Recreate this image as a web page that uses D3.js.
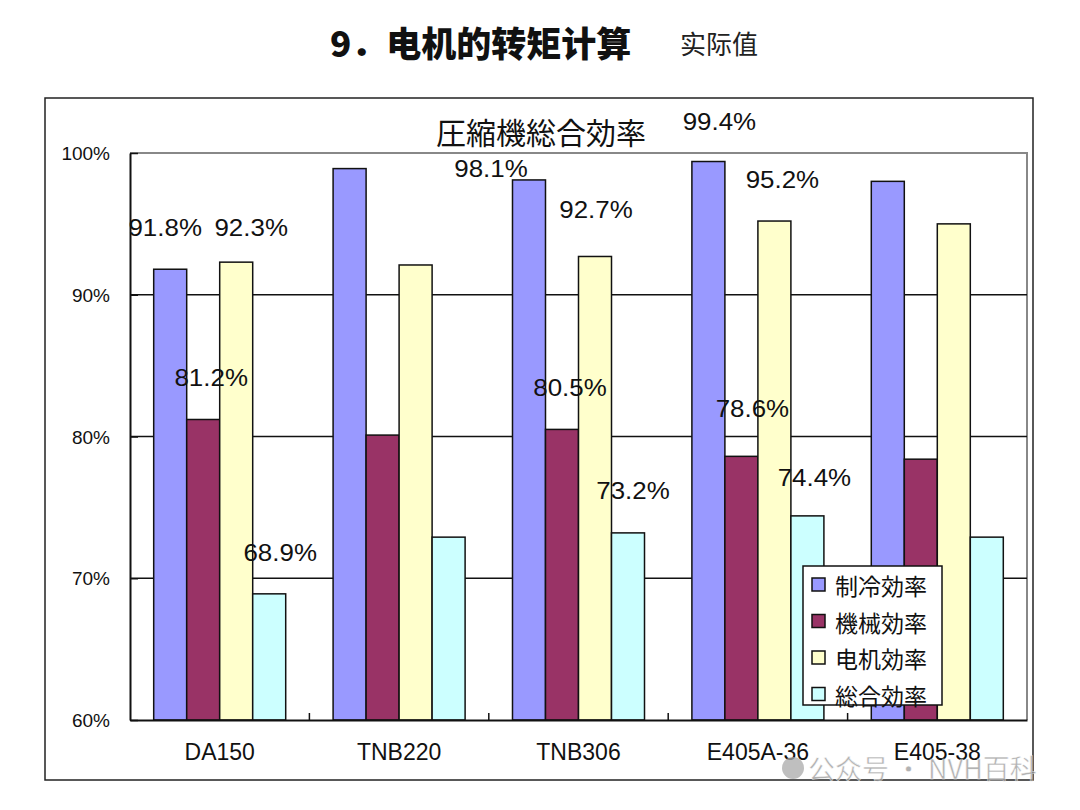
<!DOCTYPE html>
<html><head><meta charset="utf-8">
<script src="https://cdn.jsdelivr.net/npm/d3@7"></script>
<style>
html,body{margin:0;padding:0;background:#fff;}
svg{display:block;}
</style></head>
<body>
<svg id="c" width="1080" height="810"></svg>
<script>
// ---- data ----
const categories = ["DA150", "TNB220", "TNB306", "E405A-36", "E405-38"];
const seriesNames = ["制冷効率", "機械効率", "电机効率", "総合効率"];
const cooling    = [91.8, 98.9, 98.1, 99.4, 98.0];
const mechanical = [81.2, 80.1, 80.5, 78.6, 78.4];
const motor      = [92.3, 92.1, 92.7, 95.2, 95.0];
const overall    = [68.9, 72.9, 73.2, 74.4, 72.9];
const labeledCategories = ["DA150", "TNB306", "E405A-36"];
const yTickValues = [60, 70, 80, 90, 100];
const yTickLabels = ["60%", "70%", "80%", "90%", "100%"];

// ---- layout / style ----
const seriesValues = [cooling, mechanical, motor, overall];
const colors = ["#9999FF", "#993366", "#FFFFCC", "#CCFFFF"];
// label nudges [dx, dy] from bar top centre, per labelled category, per series
const labelNudges = {
  "DA150":    [[-5, -42], [8, -42], [15, -35], [11, -41]],
  "TNB306":   [[-38, -12], [8, -42], [1, -47], [5, -43]],
  "E405A-36": [[11, -40], [11, -48], [8, -42], [7, -39]]
};
const latin = "'Liberation Sans', Arial, sans-serif";
const cjk = "'Noto Sans CJK JP', 'Noto Sans CJK SC', sans-serif";

const svg = d3.select("#c");
const plot = {left: 130, right: 1027, top: 153, bottom: 720};

const x0 = d3.scaleBand().domain(categories).range([plot.left, plot.right]).padding(0);
const x1 = d3.scaleBand().domain(d3.range(seriesNames.length))
  .range([0, x0.bandwidth()]).paddingInner(0).paddingOuter(0.718);
const y = d3.scaleLinear().domain([60, 100]).range([plot.bottom, plot.top]);

// page title
svg.append("text").attr("x", 330).attr("y", 57)
  .attr("font-family", "'Noto Sans CJK SC', sans-serif").attr("font-weight", 900)
  .attr("font-size", 35).attr("fill", "#111").text("9．电机的转矩计算");
svg.append("text").attr("x", 680).attr("y", 54)
  .attr("font-family", "'Noto Sans CJK SC', sans-serif").attr("font-size", 26)
  .attr("fill", "#222").text("实际值");

// outer box
svg.append("rect").attr("x", 45).attr("y", 98).attr("width", 988).attr("height", 682)
  .attr("fill", "none").attr("stroke", "#222").attr("stroke-width", 1.5);

// chart title
svg.append("text").attr("x", 541).attr("y", 144).attr("text-anchor", "middle")
  .attr("font-family", cjk).attr("font-size", 30).attr("fill", "#111").text("圧縮機総合効率");

// plot border (top & right, gray)
svg.append("path")
  .attr("d", `M${plot.left},${plot.top}H${plot.right}V${plot.bottom}`)
  .attr("fill", "none").attr("stroke", "#888").attr("stroke-width", 2);

// gridlines
svg.append("g").selectAll("line").data(yTickValues.filter(v => v > 60 && v < 100)).join("line")
  .attr("x1", plot.left).attr("x2", plot.right)
  .attr("y1", d => y(d)).attr("y2", d => y(d))
  .attr("stroke", "#111").attr("stroke-width", 1.5);

// bars
const groups = svg.append("g").selectAll("g").data(categories).join("g")
  .attr("transform", d => `translate(${x0(d)},0)`);
groups.selectAll("rect").data((c, i) => seriesValues.map((s, j) => ({c, j, v: s[i]}))).join("rect")
  .attr("x", d => x1(d.j))
  .attr("width", x1.bandwidth())
  .attr("y", d => y(d.v))
  .attr("height", d => y(60) - y(d.v))
  .attr("fill", d => colors[d.j])
  .attr("stroke", "#111").attr("stroke-width", 1.5);

// y axis
const yAxis = d3.axisLeft(y).tickValues(yTickValues)
  .tickFormat((d, i) => yTickLabels[i]).tickSizeInner(-8).tickSizeOuter(0).tickPadding(20);
const ya = svg.append("g").attr("transform", `translate(${plot.left},0)`).call(yAxis);
ya.select(".domain").attr("stroke", "#111").attr("stroke-width", 2);
ya.selectAll(".tick line").attr("stroke", "#111").attr("stroke-width", 1.5);
ya.selectAll(".tick text").attr("font-family", latin).attr("font-size", 19).attr("fill", "#111")
  .attr("dy", "0.35em");

// x axis
const xAxis = d3.axisBottom(x0).tickSize(0).tickPadding(24);
const xa = svg.append("g").attr("transform", `translate(0,${plot.bottom})`).call(xAxis);
xa.select(".domain").attr("stroke", "#111").attr("stroke-width", 2);
xa.selectAll(".tick text").attr("font-family", latin).attr("font-size", 23).attr("fill", "#111");
// inner tick marks at group boundaries
svg.append("g").selectAll("line").data(categories.slice(1)).join("line")
  .attr("x1", d => x0(d)).attr("x2", d => x0(d))
  .attr("y1", plot.bottom).attr("y2", plot.bottom - 7)
  .attr("stroke", "#111").attr("stroke-width", 1.5);

// data labels
const labels = [];
labeledCategories.forEach(c => {
  const i = categories.indexOf(c);
  seriesValues.forEach((s, j) => {
    const n = labelNudges[c][j];
    labels.push({x: x0(c) + x1(j) + x1.bandwidth() / 2 + n[0], y: y(s[i]) + n[1], v: s[i]});
  });
});
svg.append("g").selectAll("text").data(labels).join("text")
  .attr("transform", d => `translate(${d.x},${d.y}) scale(1.08,1)`)
  .attr("text-anchor", "middle").attr("dominant-baseline", "central")
  .attr("font-family", latin).attr("font-size", 24).attr("fill", "#111")
  .text(d => d.v.toFixed(1) + "%");

// legend
const lg = svg.append("g").attr("transform", "translate(803,566)");
lg.append("rect").attr("width", 139).attr("height", 139)
  .attr("fill", "#fff").attr("stroke", "#111").attr("stroke-width", 1.5);
const li = lg.selectAll("g").data(seriesNames).join("g")
  .attr("transform", (d, i) => `translate(0,${18 + i * 36.5})`);
li.append("rect").attr("x", 9).attr("y", -6).attr("width", 13).attr("height", 13)
  .attr("fill", (d, i) => colors[i]).attr("stroke", "#111").attr("stroke-width", 1.5);
li.append("text").attr("x", 32).attr("y", 1).attr("dominant-baseline", "central")
  .attr("font-family", cjk).attr("font-size", 23).attr("fill", "#111").text(d => d);

// watermark
const wm = svg.append("g").attr("opacity", 0.75);
wm.append("circle").attr("cx", 793).attr("cy", 768).attr("r", 11).attr("fill", "#aaa");
wm.append("text").attr("x", 808).attr("y", 779)
  .attr("font-family", "'Noto Sans CJK SC', sans-serif").attr("font-size", 27)
  .attr("fill", "#999").attr("stroke", "#fff").attr("stroke-width", 0.5)
  .text("公众号 · NVH百科");
</script>
</body></html>
